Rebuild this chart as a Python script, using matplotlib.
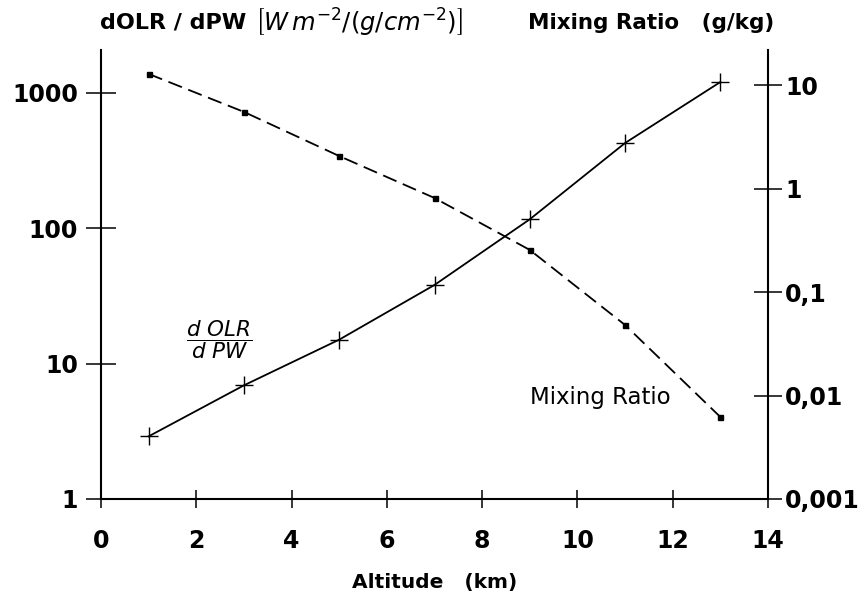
import matplotlib
matplotlib.use('Agg')
import matplotlib.pyplot as plt
from matplotlib.ticker import FixedLocator, FixedFormatter, NullLocator

# ---- data ----
altitude = [1, 3, 5, 7, 9, 11, 13]
dolr_dpw = [2.9, 6.9, 15.0, 38, 116, 424, 1195]
mixing_ratio = [12.8, 5.5, 2.06, 0.81, 0.255, 0.048, 0.0062]

x_ticks = [0, 2, 4, 6, 8, 10, 12, 14]
x_labels = ['0', '2', '4', '6', '8', '10', '12', '14']
left_ticks = [1, 10, 100, 1000]
left_labels = ['1', '10', '100', '1000']
right_ticks = [0.001, 0.01, 0.1, 1, 10]
right_labels = ['0,001', '0,01', '0,1', '1', '10']

plt.rcParams['font.family'] = 'DejaVu Sans'
plt.rcParams['mathtext.fontset'] = 'dejavusans'

W, H = 865, 599
fig = plt.figure(figsize=(W / 100, H / 100), dpi=100)
ax = fig.add_axes([101 / W, 1 - 499 / H, 667 / W, 449 / H])
ax2 = ax.twinx()

ax.plot(altitude, dolr_dpw, color='black', lw=1.3, marker='+', ms=13, mew=1.0)
ax2.plot(altitude, mixing_ratio, color='black', lw=1.3, ls=(0, (8, 3.8)),
         marker='s', ms=3.6)

ax.set_xlim(0, 14)
ax.set_yscale('log')
ax.set_ylim(1, 2060)
ax2.set_yscale('log')
ax2.set_ylim(0.001, 21.8)

ax.xaxis.set_major_locator(FixedLocator(x_ticks))
ax.xaxis.set_major_formatter(FixedFormatter(x_labels))
ax.yaxis.set_major_locator(FixedLocator(left_ticks))
ax.yaxis.set_major_formatter(FixedFormatter(left_labels))
ax.yaxis.set_minor_locator(NullLocator())
ax2.yaxis.set_major_locator(FixedLocator(right_ticks))
ax2.yaxis.set_major_formatter(FixedFormatter(right_labels))
ax2.yaxis.set_minor_locator(NullLocator())

for a in (ax, ax2):
    a.spines['top'].set_visible(False)
    for s in a.spines.values():
        s.set_linewidth(1.5)
ax.spines['right'].set_visible(False)
ax2.spines['left'].set_visible(False)
ax2.spines['bottom'].set_visible(False)

ax.tick_params(axis='x', direction='inout', length=13, width=1.1, pad=15,
               labelsize=17)
ax.tick_params(axis='y', direction='inout', length=21, width=1.1, pad=6,
               labelsize=17)
ax2.tick_params(axis='y', direction='inout', length=19.5, width=1.1, pad=2.5,
                labelsize=17)
for lab in ax.get_xticklabels() + ax.get_yticklabels() + ax2.get_yticklabels():
    lab.set_fontweight('bold')

ax.set_xlabel('Altitude   (km)', fontsize=14.5, fontweight='bold')
ax.xaxis.set_label_coords(0.5, -0.165)

fig.text(100 / W, 1 - 23 / H, 'dOLR / dPW',
         fontsize=16, fontweight='bold', va='center', ha='left')
fig.text(255 / W, 1 - 23 / H, r'$\left[W\,m^{-2}/(g/cm^{-2})\right]$',
         fontsize=17.5, va='center', ha='left')
fig.text(528 / W, 1 - 23 / H, 'Mixing Ratio   (g/kg)',
         fontsize=15.5, fontweight='bold', va='center', ha='left')

ax.text(0.178, 0.354, r'$\dfrac{d\ OLR}{d\ PW}$', transform=ax.transAxes,
        fontsize=15.5, ha='center', va='center')
ax.text(0.643, 0.227, 'Mixing Ratio', transform=ax.transAxes,
        fontsize=16.5, ha='left', va='center')

fig.savefig('out.png', dpi=100)
